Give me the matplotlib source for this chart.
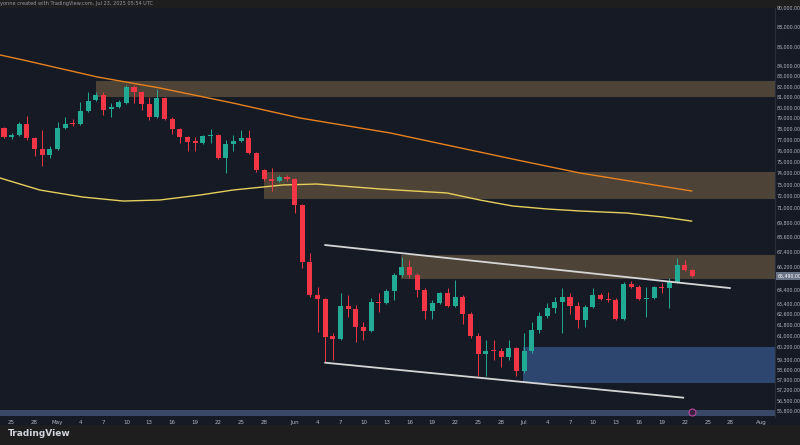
import numpy as np
import pandas as pd
import matplotlib
matplotlib.use('Agg')
import matplotlib.pyplot as plt
import matplotlib.transforms as mtrans
from matplotlib.ticker import NullLocator

# daily candles from Apr 24 2025 to Jul 23 2025
start = pd.Timestamp('2025-04-24')
opens = [78060, 77230, 77410, 78430, 77140, 76140, 75600, 76140, 78060, 78520,
         78430, 79650, 80700, 81180, 79840, 80030, 80410, 81950, 81460, 80310,
         79080, 80890, 78900, 77970, 77230, 76860, 76680, 77320, 77410, 75330,
         76590, 76860, 77140, 75780, 74270, 73480, 73300, 73650, 73480, 71250,
         66590, 64030, 63730, 60990, 60770, 63200, 62970, 61650, 61350, 63500,
         63430, 64330, 65570, 66190, 65570, 64410, 62830, 63430, 64180, 63200,
         63880, 62600, 60990, 59700, 59990, 59910, 59490, 60130, 58510, 59910,
         61430, 62450, 63050, 63500, 63880, 63200, 62160, 63130, 64030, 63730,
         63650, 62230, 64870, 64640, 63730, 63800, 64640, 64570, 65030, 66350,
         65960]
highs = [78150, 77600, 78620, 79180, 77230, 77870, 76410, 78620, 79080, 78900,
         80500, 81460, 81460, 81460, 80410, 80700, 82140, 82140, 81560, 80980,
         81750, 80980, 79080, 78060, 77320, 77230, 77410, 77970, 77500, 76960,
         77410, 77870, 77870, 75870, 74350, 74440, 73820, 73820, 73560, 71330,
         67300, 64640, 63800, 61210, 64180, 64030, 63280, 62010, 63800, 64180,
         64490, 65720, 66980, 66740, 65720, 64570, 63650, 64260, 64570, 65180,
         64030, 62750, 61210, 60700, 60700, 60130, 60700, 60200, 61210, 62010,
         62750, 63430, 63880, 64570, 64180, 63500, 63280, 64570, 64180, 64260,
         63800, 65030, 65100, 64800, 64640, 64720, 64950, 65330, 66900, 66740,
         66030]
lows = [77140, 77050, 77320, 76960, 75510, 74620, 75330, 76050, 77970, 78250,
        78340, 79550, 80600, 79270, 79080, 79930, 80300, 80410, 79740, 78800,
        78990, 78800, 77500, 76680, 75960, 75960, 76590, 76680, 75240, 74000,
        75960, 76770, 75690, 74090, 73300, 72440, 73210, 73300, 70580, 66110,
        63880, 61280, 59140, 59280, 60700, 62380, 60560, 60700, 61280, 62750,
        63350, 63650, 65410, 65330, 63880, 62230, 62230, 63350, 63130, 63130,
        61860, 60850, 58160, 58160, 59280, 58790, 59280, 58160, 58370, 59770,
        61210, 62300, 62680, 61210, 62600, 61570, 61650, 63050, 63650, 63500,
        62160, 62160, 64570, 63650, 62380, 63730, 64180, 63050, 64950, 65880,
        65410]
closes = [77230, 77410, 78430, 77140, 76140, 75600, 76140, 78060, 78430, 78430,
          79650, 80600, 81180, 79740, 80030, 80500, 81950, 81460, 80310, 79080,
          80890, 78900, 77970, 77230, 76770, 76680, 77320, 77410, 75330, 76590,
          76860, 77140, 75780, 74270, 73480, 73300, 73650, 73480, 71250, 66590,
          64030, 63730, 60920, 60770, 63200, 62970, 61650, 61350, 63500, 63430,
          64330, 65570, 66190, 65570, 64410, 62830, 63430, 64180, 63200, 63880,
          62600, 60990, 59700, 59910, 59910, 59490, 60130, 58510, 59910, 61430,
          62450, 63050, 63500, 63880, 63200, 62160, 63130, 64030, 63730, 63650,
          62230, 64870, 64640, 63730, 63800, 64640, 64570, 65030, 66350, 65960,
          65490]

# moving averages, x = days since start
ma_slow_x = [-0.5, 2.5, 12.2, 20.4, 29.9, 38.7, 50.5, 67.1, 75.3, 89.9]
ma_slow = [85120, 84620, 82930, 81850, 80410, 78990, 77600, 75150, 74000, 72440]
ma_fast_x = [-0.5, 4.7, 10.3, 15.6, 20.4, 25.6, 29.9, 36.5, 40.9, 49.2,
             53.5, 57.9, 62.2, 66.5, 71.0, 75.3, 81.4, 86.1, 89.9]
ma_fast = [73560, 72520, 71920, 71580, 71670, 72090, 72520, 72960, 73040, 72610,
           72440, 72270, 71670, 71160, 70910, 70740, 70570, 70240, 69900]

# supply zones (brown) and demand zone (blue)
zone_start = [12.0, 34.0, 51.9]
zone_low = [80990, 71750, 65260]
zone_high = [82540, 74090, 67140]
demand_start = 67.9
demand_low, demand_high = 57680, 60200

# descending channel
chan_top_x = [42.0, 94.9]
chan_top = [67940, 64560]
chan_bot_x = [42.0, 88.8]
chan_bot = [59090, 56690]

band_low, band_high = 55480, 55860
event_days = [90]

price_ticks = [90000, 88000, 86000, 84000, 83000, 82000, 81000, 80000, 79000,
               78000, 77000, 76000, 75000, 74000, 73000, 72000, 71000, 69800,
               68600, 67400, 66200, 64400, 63400, 62600, 61800, 61000, 60200,
               59300, 58600, 57900, 57200, 56500, 55800]
tick_dates = pd.to_datetime([
    '2025-04-25', '2025-04-28', '2025-05-01', '2025-05-04', '2025-05-07',
    '2025-05-10', '2025-05-13', '2025-05-16', '2025-05-19', '2025-05-22',
    '2025-05-25', '2025-05-28', '2025-06-01', '2025-06-04', '2025-06-07',
    '2025-06-10', '2025-06-13', '2025-06-16', '2025-06-19', '2025-06-22',
    '2025-06-25', '2025-06-28', '2025-07-01', '2025-07-04', '2025-07-07',
    '2025-07-10', '2025-07-13', '2025-07-16', '2025-07-19', '2025-07-22',
    '2025-07-25', '2025-07-28', '2025-08-01'])

bg = '#151a25'
up, down = '#22ab94', '#f23645'
txt = '#b2b5be'

fig = plt.figure(figsize=(8, 4.45), dpi=100, facecolor='#1e1e1e')
# navy chart panel behind axes and price scale
fig.patches.append(plt.Rectangle((0, 20/445), 1, 417/445, transform=fig.transFigure,
                                 facecolor=bg, edgecolor='none', zorder=-10))
ax = fig.add_axes([0, 28/445, 775/800, 409/445])
ax.set_facecolor(bg)
ax.set_yscale('log')
ax.set_xlim(-0.52, 100.8)
ax.set_ylim(55404, 90000)
xr = ax.get_xlim()[1]

for s, lo, hi in zip(zone_start, zone_low, zone_high):
    ax.fill_between([s, xr], lo, hi, color='#4d4337', lw=0, zorder=1)
ax.fill_between([demand_start, xr], demand_low, demand_high, color='#2c4670', lw=0, zorder=1)
ax.axhspan(band_low, band_high, color='#3a4868', lw=0, zorder=1)

ax.plot(ma_slow_x, ma_slow, color='#e8821e', lw=1.0, zorder=2)
ax.plot(ma_fast_x, ma_fast, color='#e6cf5c', lw=1.0, zorder=2)

# candles
x = np.arange(len(opens))
o, h, l, c = map(np.array, (opens, highs, lows, closes))
col = np.where(c >= o, up, down)
ax.vlines(x, l, h, colors=col, lw=0.7, zorder=3)
body_lo = np.minimum(o, c)
body_h = np.maximum(np.abs(c - o), body_lo * 0.0012)
ax.bar(x, body_h, bottom=body_lo, width=0.66, color=col, lw=0, zorder=3)

ax.plot(chan_top_x, chan_top, color='#d6d6d6', lw=1.3, zorder=4)
ax.plot(chan_bot_x, chan_bot, color='#d6d6d6', lw=1.3, zorder=4)

tr_ev = mtrans.blended_transform_factory(ax.transData, ax.transAxes)
ax.plot(event_days, [0.013] * len(event_days), 'o', transform=tr_ev, ms=5,
        mfc='#3a1f3f', mec='#b84aa0', mew=0.8, zorder=6, clip_on=False)

# axes
ax.yaxis.tick_right()
ax.set_yticks(price_ticks)
ax.set_yticklabels([f'{v:,.2f}' for v in price_ticks])
ax.yaxis.set_minor_locator(NullLocator())
ax.tick_params(axis='y', length=0, pad=1.5, labelsize=3.4, labelcolor=txt)

tick_pos = (tick_dates - start).days
tick_lab = [d.strftime('%b') if d.day == 1 else str(d.day) for d in tick_dates]
ax.set_xticks(tick_pos)
ax.set_xticklabels(tick_lab)
ax.tick_params(axis='x', length=0, pad=2, labelsize=4, labelcolor=txt)

for side in ['top', 'left', 'bottom']:
    ax.spines[side].set_visible(False)
ax.spines['right'].set_color('#2a2e39')

tr_tag = mtrans.blended_transform_factory(ax.transAxes, ax.transData)
ax.text(1.003, closes[-1], f'{closes[-1]:,.2f}', transform=tr_tag, fontsize=3.4,
        color='white', va='center', ha='left', zorder=7,
        bbox=dict(boxstyle='square,pad=0.3', fc='#6b7386', ec='none'))

fig.text(0.0, 1 - 4/445, 'yonne created with TradingView.com, Jul 23, 2025 05:54 UTC',
         fontsize=3.6, color='#9598a1', va='center')
fig.text(8/800, 1 - 434/445, 'TradingView', fontsize=6.5, fontweight='bold',
         color='#d1d4dc', va='center')

fig.savefig('out.png', dpi=100, facecolor=fig.get_facecolor())
